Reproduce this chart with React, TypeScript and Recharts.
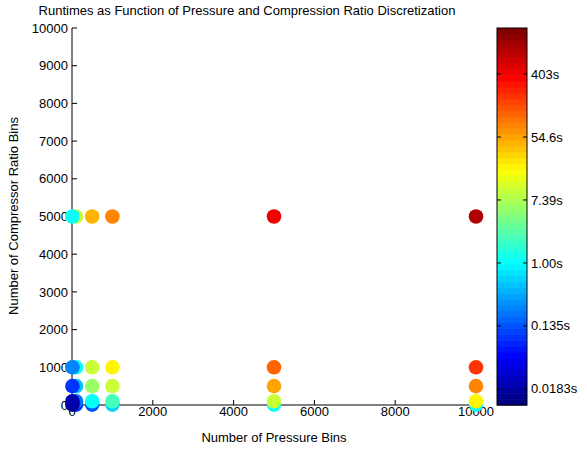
import { ScatterChart, Scatter, XAxis, YAxis } from 'recharts';

// pressure bins (x) and compressor ratio bins (y); drawing order matters for overlaps
const pressureBins = [100, 10, 500, 1000, 5000, 10000];
const ratioBins = [10, 100, 500, 1000, 5000];

// runtimes in seconds, one list per pressure bin, ordered like ratioBins
const runtimesP10 = [0.015, 0.02, 0.1, 0.22, 1.0];
const runtimesP100 = [0.1, 0.2, 0.47, 1.0, 9.3];
const runtimesP500 = [0.15, 1.0, 6.3, 9.3, 48];
const runtimesP1000 = [0.65, 2.1, 9.3, 19.6, 87];
const runtimesP5000 = [1.0, 9.3, 59, 118, 400];
const runtimesP10000 = [1.0, 19.6, 87, 185, 950];

const runtimesByPressure: Record<number, number[]> = {
    10: runtimesP10,
    100: runtimesP100,
    500: runtimesP500,
    1000: runtimesP1000,
    5000: runtimesP5000,
    10000: runtimesP10000,
};

const xTicks = [0, 2000, 4000, 6000, 8000, 10000];
const yTicks = [0, 1000, 2000, 3000, 4000, 5000, 6000, 7000, 8000, 9000, 10000];

// colorbar: natural log of runtime
const cbarMin = -4.51;
const cbarMax = 7.46;
const cbarTicks = [-4, -2, 0, 2, 4, 6];
const cbarLabels = ['0.0183s', '0.135s', '1.00s', '7.39s', '54.6s', '403s'];

const clamp = (v: number) => Math.max(0, Math.min(1, v));

function jet(t: number) {
    const q = Math.floor(clamp(t) * 63.999) / 63;
    const r = clamp(1.5 - Math.abs(4 * q - 3));
    const g = clamp(1.5 - Math.abs(4 * q - 2));
    const b = clamp(1.5 - Math.abs(4 * q - 1));
    return `rgb(${Math.round(r * 255)},${Math.round(g * 255)},${Math.round(b * 255)})`;
}

const toT = (sec: number) => (Math.log(sec) - cbarMin) / (cbarMax - cbarMin);

const data = pressureBins.flatMap((p) =>
    ratioBins.map((r, i) => ({
        pressure: p,
        ratio: r,
        runtime: runtimesByPressure[p][i],
        color: jet(toT(runtimesByPressure[p][i])),
    }))
);

const font = '"Liberation Sans", Arial, sans-serif';
const tickStyle = { fill: '#000', fontSize: 13, fontFamily: font };

// colorbar geometry
const cbX = 497;
const cbY = 28;
const cbW = 30;
const cbH = 377;
const cbY0 = (v: number) => cbY + cbH - ((v - cbarMin) / (cbarMax - cbarMin)) * cbH;

export default function App() {
    const steps = Array.from({ length: 64 }, (_, i) => i);
    return (
        <div style={{ position: 'absolute', left: 0, top: 0, width: 587, height: 449, background: '#fff' }}>
            <ScatterChart width={587} height={449} margin={{ top: 28, right: 111, left: 12, bottom: 14 }}>
                <XAxis
                    type="number"
                    dataKey="pressure"
                    domain={[0, 10000]}
                    ticks={xTicks}
                    tickSize={-5}
                    tickMargin={7}
                    height={30}
                    stroke="#000"
                    tick={tickStyle}
                />
                <YAxis
                    type="number"
                    dataKey="ratio"
                    domain={[0, 10000]}
                    ticks={yTicks}
                    tickSize={-5}
                    tickMargin={9}
                    width={60}
                    stroke="#000"
                    tick={tickStyle}
                />
                <Scatter
                    data={data}
                    isAnimationActive={false}
                    zIndex={3000}
                    shape={(p: any) => <circle cx={p.cx} cy={p.cy} r={7.3} fill={p.payload.color} />}
                />
            </ScatterChart>
            <svg
                width={587}
                height={449}
                style={{ position: 'absolute', left: 0, top: 0, pointerEvents: 'none' }}
                fontFamily={font}
            >
                <text x={247} y={15} textAnchor="middle" fontSize={13} fill="#000">
                    Runtimes as Function of Pressure and Compression Ratio Discretization
                </text>
                <text x={274} y={442} textAnchor="middle" fontSize={13} fill="#000">
                    Number of Pressure Bins
                </text>
                <text x={18} y={216} textAnchor="middle" fontSize={13} fill="#000" transform="rotate(-90 18 216)">
                    Number of Compressor Ratio Bins
                </text>
                {steps.map((i) => (
                    <rect
                        key={i}
                        x={cbX}
                        y={cbY + cbH - ((i + 1) * cbH) / 64}
                        width={cbW}
                        height={cbH / 64 + 0.6}
                        fill={jet((i + 0.5) / 64)}
                    />
                ))}
                <rect x={cbX} y={cbY} width={cbW} height={cbH} fill="none" stroke="#000" />
                {cbarTicks.map((v, i) => (
                    <g key={v}>
                        <line x1={cbX} x2={cbX + 4} y1={cbY0(v)} y2={cbY0(v)} stroke="#000" />
                        <line x1={cbX + cbW - 4} x2={cbX + cbW} y1={cbY0(v)} y2={cbY0(v)} stroke="#000" />
                        <text x={cbX + cbW + 4} y={cbY0(v)} dy="0.35em" fontSize={13} fill="#000">
                            {cbarLabels[i]}
                        </text>
                    </g>
                ))}
            </svg>
        </div>
    );
}
